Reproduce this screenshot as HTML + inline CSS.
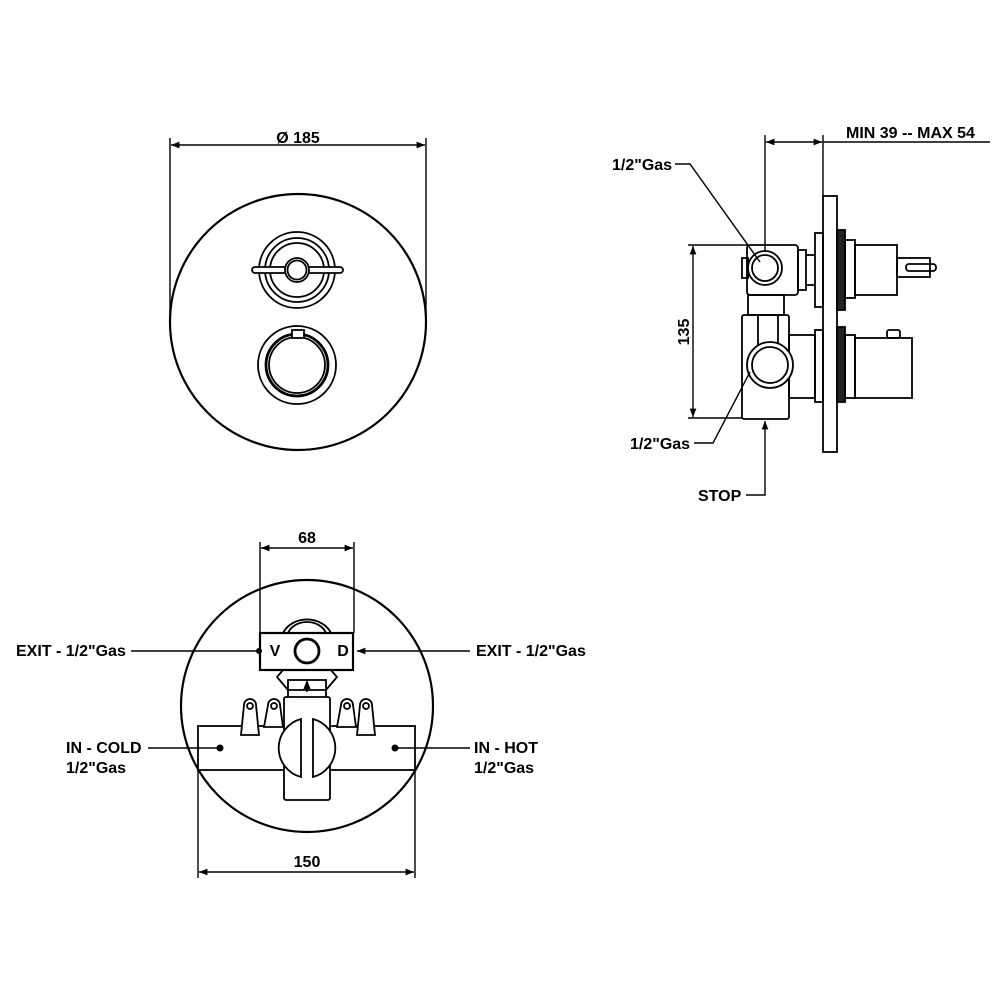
<!DOCTYPE html>
<html><head><style>
html,body{margin:0;padding:0;background:#fff}
svg{display:block}
text{font-family:"Liberation Sans",Arial,sans-serif;font-weight:bold;font-size:16px;fill:#000}
</style></head><body>
<svg width="1000" height="1000" viewBox="0 0 1000 1000" xmlns="http://www.w3.org/2000/svg">
<defs>
<marker id="a" viewBox="0 0 10 10" refX="10" refY="5" markerWidth="8" markerHeight="6" orient="auto-start-reverse"><path d="M0,1 L10,5 L0,9 z" fill="#000"/></marker>
</defs>
<g fill="none" stroke="#000" stroke-width="1.8">
<!-- TOP VIEW -->
<line x1="170" y1="138" x2="170" y2="322" stroke-width="1.4"/>
<line x1="426" y1="138" x2="426" y2="322" stroke-width="1.4"/>
<line x1="171" y1="145" x2="425" y2="145" stroke-width="1.4" marker-start="url(#a)" marker-end="url(#a)"/>
<circle cx="298" cy="322" r="128" stroke-width="2.2"/>
<circle cx="297" cy="270" r="38"/>
<circle cx="297" cy="270" r="32"/>
<circle cx="297" cy="270" r="27"/>
<rect x="252" y="267" width="91" height="6" rx="3" fill="#fff"/>
<circle cx="297" cy="270" r="12" fill="#fff"/>
<circle cx="297" cy="270" r="9.5"/>
<circle cx="297" cy="365" r="39"/>
<circle cx="297" cy="365" r="31" stroke-width="2.8"/>
<circle cx="297" cy="365" r="28"/>
<rect x="292" y="330" width="12" height="8" fill="#fff"/>

<!-- SIDE VIEW -->
<line x1="765" y1="135" x2="765" y2="252" stroke-width="1.4"/>
<line x1="823" y1="135" x2="823" y2="196" stroke-width="1.4"/>
<line x1="766" y1="142" x2="822" y2="142" stroke-width="1.4" marker-start="url(#a)" marker-end="url(#a)"/>
<line x1="823" y1="142" x2="990" y2="142" stroke-width="1.4"/>
<rect x="823" y="196" width="14" height="256"/>
<rect x="815" y="233" width="8" height="74"/>
<rect x="837" y="230" width="8" height="80" fill="#222"/>
<rect x="845" y="240" width="10" height="58"/>
<rect x="855" y="245" width="42" height="50"/>
<rect x="897" y="258" width="33" height="19"/>
<rect x="906" y="264" width="30" height="7" rx="3"/>
<rect x="747" y="245" width="51" height="50" rx="3"/>
<rect x="798" y="250" width="8" height="40"/>
<line x1="806" y1="255" x2="815" y2="255"/><line x1="806" y1="285" x2="815" y2="285"/>
<rect x="742" y="258" width="6" height="20"/>
<circle cx="765" cy="268" r="17" fill="#fff"/>
<circle cx="765" cy="268" r="13"/>
<rect x="748" y="295" width="36" height="20"/>
<rect x="742" y="315" width="47" height="104" rx="2"/>
<line x1="758" y1="315" x2="758" y2="345"/><line x1="778" y1="315" x2="778" y2="345"/>
<rect x="789" y="335" width="26" height="63"/>
<rect x="815" y="330" width="8" height="72"/>
<rect x="837" y="327" width="8" height="75" fill="#222"/>
<rect x="845" y="335" width="10" height="63"/>
<rect x="855" y="338" width="57" height="60"/>
<rect x="887" y="330" width="13" height="8" rx="2"/>
<circle cx="770" cy="365" r="23" fill="#fff"/>
<circle cx="770" cy="365" r="18"/>
<!-- 135 dim -->
<line x1="688" y1="245" x2="747" y2="245" stroke-width="1.4"/>
<line x1="688" y1="418" x2="742" y2="418" stroke-width="1.4"/>
<line x1="693" y1="246" x2="693" y2="417" stroke-width="1.4" marker-start="url(#a)" marker-end="url(#a)"/>
<!-- leaders -->
<polyline points="675,164 690,164 760,262" stroke-width="1.4"/>
<polyline points="694,443 713,443 750,372" stroke-width="1.4"/>
<polyline points="746,495 765,495 765,421" stroke-width="1.4" marker-end="url(#a)"/>

<!-- BOTTOM VIEW -->
<line x1="260" y1="542" x2="260" y2="633" stroke-width="1.4"/>
<line x1="354" y1="542" x2="354" y2="633" stroke-width="1.4"/>
<line x1="261" y1="548" x2="353" y2="548" stroke-width="1.4" marker-start="url(#a)" marker-end="url(#a)"/>
<circle cx="307" cy="706" r="126" stroke-width="2.2"/>
<path d="M283,633 A26,22 0 0 1 331,633"/>
<path d="M288,633 A20,16 0 0 1 326,633"/>
<path d="M290,662 L277,677 L288,690 L326,690 L337,677 L324,662"/>
<rect x="288" y="680" width="38" height="18"/>
<rect x="260" y="633" width="93" height="37" fill="#fff" stroke-width="2.2"/>
<circle cx="307" cy="651" r="12" fill="#fff" stroke-width="2.8"/>
<line x1="307" y1="692" x2="307" y2="680" stroke-width="1.5" marker-end="url(#a)"/>
<rect x="198" y="726" width="217" height="44" fill="#fff"/>
<path d="M241,735 L244,705 A6,6 0 0 1 256,705 L259,735 Z" fill="#fff"/><circle cx="250" cy="706" r="3"/>
<path d="M264,727 L268,705 A6,6 0 0 1 280,705 L283,727 Z" fill="#fff"/><circle cx="274" cy="706" r="3"/>
<path d="M337,727 L341,705 A6,6 0 0 1 353,705 L356,727 Z" fill="#fff"/><circle cx="347" cy="706" r="3"/>
<path d="M357,735 L360,705 A6,6 0 0 1 372,705 L375,735 Z" fill="#fff"/><circle cx="366" cy="706" r="3"/>
<rect x="284" y="697" width="46" height="103" rx="2" fill="#fff"/>
<path d="M301,719 A30,30 0 0 0 301,777 Z" fill="#fff"/>
<path d="M313,719 A30,30 0 0 1 313,777 Z" fill="#fff"/>
<line x1="198" y1="770" x2="198" y2="878" stroke-width="1.4"/>
<line x1="415" y1="770" x2="415" y2="878" stroke-width="1.4"/>
<line x1="199" y1="872" x2="414" y2="872" stroke-width="1.4" marker-start="url(#a)" marker-end="url(#a)"/>
<!-- leaders -->
<line x1="131" y1="651" x2="258" y2="651" stroke-width="1.4"/>
<line x1="357" y1="651" x2="470" y2="651" stroke-width="1.4" marker-start="url(#a)"/>
<line x1="148" y1="748" x2="220" y2="748" stroke-width="1.4"/>
<line x1="395" y1="748" x2="470" y2="748" stroke-width="1.4"/>
</g>
<g fill="#000">
<circle cx="259" cy="651" r="3"/><circle cx="220" cy="748" r="3.5"/><circle cx="395" cy="748" r="3.5"/>
</g>
<text x="298" y="143" text-anchor="middle">Ø  185</text>
<text x="846" y="138">MIN 39 -- MAX 54</text>
<text x="612" y="170">1/2"Gas</text>
<text x="630" y="449">1/2"Gas</text>
<text x="698" y="501">STOP</text>
<text x="0" y="0" transform="translate(689,332) rotate(-90)" text-anchor="middle">135</text>
<text x="307" y="548" text-anchor="middle" dy="-5">68</text>
<text x="275" y="656" text-anchor="middle" font-size="11">V</text>
<text x="343" y="656" text-anchor="middle" font-size="11">D</text>
<text x="307" y="872" text-anchor="middle" dy="-5">150</text>
<text x="16" y="656">EXIT - 1/2"Gas</text>
<text x="476" y="656">EXIT - 1/2"Gas</text>
<text x="66" y="753">IN - COLD</text>
<text x="66" y="773">1/2"Gas</text>
<text x="474" y="753">IN - HOT</text>
<text x="474" y="773">1/2"Gas</text>
</svg>
</body></html>
